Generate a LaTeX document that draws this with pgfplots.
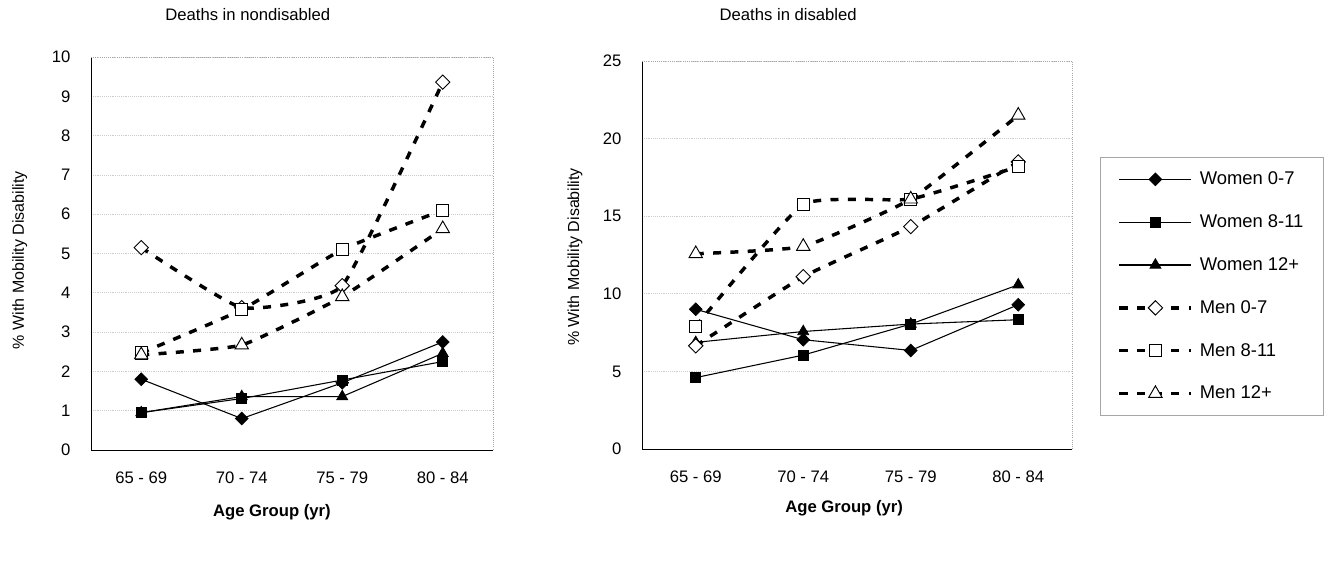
\documentclass[border=0pt]{standalone}
\usepackage{fontspec}
\setmainfont{Liberation Sans}
\usepackage{pgfplots}
\pgfplotsset{compat=1.18}

\newcommand\legfont{\fontsize{13.8}{15}\selectfont}

\pgfplotsset{
  panel/.style={
    scale only axis,
    axis x line*=bottom, axis y line*=left,
    axis line style={black, line width=0.6pt, -},
    xmin=-0.5, xmax=3.5, ymin=0,
    xtick={0,1,2,3},
    xticklabels={65 - 69, 70 - 74, 75 - 79, 80 - 84},
    major tick length=0pt,
    ymajorgrids, grid style={gray!40, densely dotted, line width=0.5pt},
    tick label style={font=\fontsize{12.5}{14}\selectfont},
    /pgf/number format/assume math mode=true,
    xticklabel style={yshift=-13pt},
    yticklabel style={xshift=-12pt},
    label style={font=\fontsize{12}{14}\selectfont},
    xlabel={\bfseries\fontsize{12.5}{14}\selectfont Age Group (yr)},
    ylabel={\% With Mobility Disability},
    title style={font=\fontsize{12.5}{14}\selectfont, anchor=center, yshift=0pt},
    clip=false,
    after end axis/.code={\draw[gray!70, densely dotted, line width=0.6pt] (rel axis cs:0,1) -- (rel axis cs:1,1) -- (rel axis cs:1,0);},
    legend image code/.code={\draw[mark repeat=2, mark phase=2, #1] plot coordinates {(0pt,0pt) (27pt,0pt) (54pt,0pt)};},
  },
  women/.style={black, line width=0.8pt, mark options={solid, fill=black, line width=0.5pt}},
  men/.style={black, line width=2.6pt, dash pattern=on 6pt off 7pt, smooth, tension=0.25,
    mark options={solid, fill=white, line width=0.7pt}},
  wdia/.style={women, mark=square*, mark size=3.4pt, every mark/.append style={rotate=45}},
  wsq/.style={women, mark=square*, mark size=3.8pt},
  wtri/.style={women, mark=triangle*, mark size=4.8pt},
  mdia/.style={men, mark=square*, mark size=3.8pt, every mark/.append style={rotate=45}},
  msq/.style={men, mark=square*, mark size=4.6pt},
  mtri/.style={men, mark=triangle*, mark size=5.8pt},
}

\begin{document}
\begin{tikzpicture}
\path[use as bounding box] (0,0) rectangle (998.25pt,425.25pt);

% left panel: deaths in nondisabled
\begin{axis}[panel,
  at={(68.25pt,87.75pt)}, anchor=south west,
  width=301.5pt, height=294.75pt,
  ymax=10, ytick={0,1,...,10},
  title={Deaths in nondisabled},
  title style={at={(axis description cs:0.39,1.087)}},
  xlabel style={at={(axis description cs:0.45,-0.158)}, anchor=center},
  ylabel style={at={(axis description cs:-0.177,0.483)}, anchor=center},
]
\addplot[wdia] coordinates {(0,1.80) (1,0.80) (2,1.71) (3,2.75)};
\addplot[wsq]  coordinates {(0,0.95) (1,1.31) (2,1.78) (3,2.25)};
\addplot[wtri] coordinates {(0,0.95) (1,1.36) (2,1.36) (3,2.46)};
\addplot[mdia] coordinates {(0,5.15) (1,3.62) (2,4.18) (3,9.36)};
\addplot[msq]  coordinates {(0,2.47) (1,3.57) (2,5.10) (3,6.10)};
\addplot[mtri] coordinates {(0,2.42) (1,2.67) (2,3.90) (3,5.63)};
\end{axis}

% right panel: deaths in disabled
\begin{axis}[panel,
  at={(481.5pt,88.5pt)}, anchor=south west,
  width=322.5pt, height=291pt,
  ymax=25, ytick={0,5,...,25},
  title={Deaths in disabled},
  title style={at={(axis description cs:0.34,1.098)}},
  xlabel style={at={(axis description cs:0.47,-0.152)}, anchor=center},
  ylabel style={at={(axis description cs:-0.156,0.495)}, anchor=center},
  legend style={at={(axis description cs:1.065,0.753)}, anchor=north west,
    draw=gray!70, line width=0.6pt,
    row sep=17pt, inner xsep=13pt, inner ysep=9pt, cells={anchor=west},
    /tikz/every odd column/.append style={column sep=3pt}},
]
\addplot[wdia] coordinates {(0,9.00) (1,7.04) (2,6.35) (3,9.30)};
\addplot[wsq]  coordinates {(0,4.60) (1,6.05) (2,8.05) (3,8.33)};
\addplot[wtri] coordinates {(0,6.87) (1,7.57) (2,8.05) (3,10.58)};
\addplot[mdia] coordinates {(0,6.65) (1,11.10) (2,14.33) (3,18.50)};
\addplot[msq]  coordinates {(0,7.90) (1,15.77) (2,16.10) (3,18.20)};
\addplot[mtri] coordinates {(0,12.58) (1,13.05) (2,16.10) (3,21.50)};
\legend{\legfont Women 0-7, \legfont Women 8-11, \legfont Women 12+, \legfont Men 0-7, \legfont Men 8-11, \legfont Men 12+}
\end{axis}
\end{tikzpicture}
\end{document}
